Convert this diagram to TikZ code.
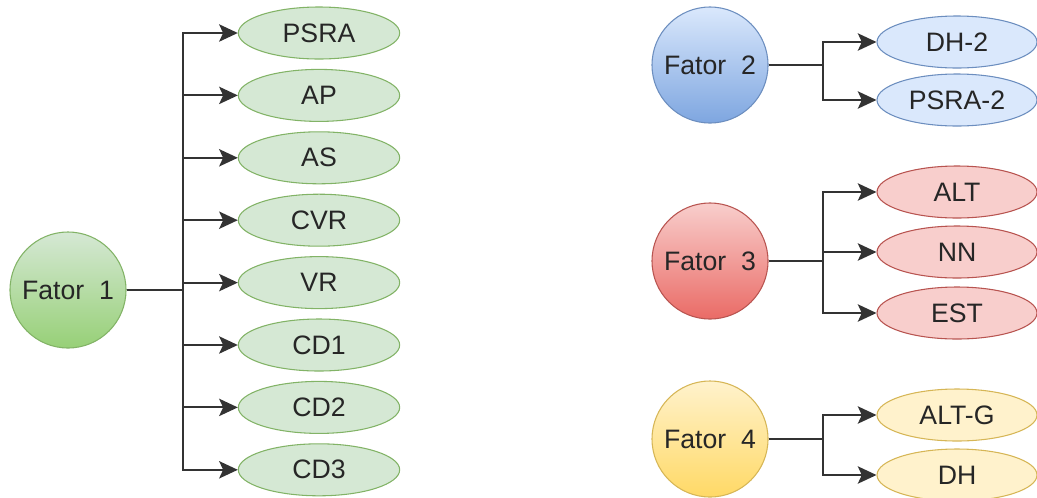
\documentclass[tikz,border=0pt]{standalone}
\usepackage{fontspec}
\setmainfont{Liberation Sans}
\usetikzlibrary{shapes.geometric,arrows.meta}

\definecolor{gfill}{HTML}{D5E8D4}
\definecolor{ggrad}{HTML}{97D077}
\definecolor{gline}{HTML}{82B366}
\definecolor{bfill}{HTML}{DAE8FC}
\definecolor{bgrad}{HTML}{7EA6E0}
\definecolor{bline}{HTML}{6C8EBF}
\definecolor{rfill}{HTML}{F8CECC}
\definecolor{rgrad}{HTML}{EA6B66}
\definecolor{rline}{HTML}{B85450}
\definecolor{yfill}{HTML}{FFF2CC}
\definecolor{ygrad}{HTML}{FFD966}
\definecolor{yline}{HTML}{D6B656}

\begin{document}
\begin{tikzpicture}[x=0.75pt,y=-0.75pt,
every node/.style={font=\fontsize{20}{22}\selectfont, text=black!85},
fator/.style={circle, draw=#1line, line width=0.8pt, minimum size=87pt, inner sep=0pt,
  top color=#1fill, bottom color=#1grad},
var/.style={ellipse, draw=#1line, line width=0.8pt, fill=#1fill, minimum width=121pt,
  minimum height=39pt, inner sep=0pt},
link/.style={line width=1.4pt, draw=black!80, -{Stealth[length=14pt,width=13pt,inset=3pt]}}]

\useasboundingbox (0,0) rectangle (1037,497);

\node[fator=g] (f1) at (68,290) {Fator\ \ 1};
\coordinate (t1) at (183,290);
\foreach \lbl [count=\i] in {PSRA, AP, AS, CVR, VR, CD1, CD2, CD3} {
\node[var=g] (v1-\i) at (319,{33+62.4*(\i-1)}) {\lbl};
\draw[link] (f1.east) -- (t1) |- (v1-\i.west);
};

\node[fator=b] (f2) at (710,65) {Fator\ \ 2};
\coordinate (t2) at (823,65);
\foreach \lbl/\y [count=\i] in {DH-2/42, PSRA-2/100} {
\node[var=b, minimum width=120pt] (v2-\i) at (957,\y) {\lbl};
\draw[link] (f2.east) -- (t2) |- (v2-\i.west);
};

\node[fator=r] (f3) at (710,261) {Fator\ \ 3};
\coordinate (t3) at (823,261);
\foreach \lbl/\y [count=\i] in {ALT/192, NN/252, EST/313} {
\node[var=r, minimum width=120pt] (v3-\i) at (957,\y) {\lbl};
\draw[link] (f3.east) -- (t3) |- (v3-\i.west);
};

\node[fator=y] (f4) at (710,439) {Fator\ \ 4};
\coordinate (t4) at (823,439);
\foreach \lbl/\y [count=\i] in {ALT-G/415, DH/475} {
\node[var=y, minimum width=120pt] (v4-\i) at (957,\y) {\lbl};
\draw[link] (f4.east) -- (t4) |- (v4-\i.west);
};

\end{tikzpicture}
\end{document}
